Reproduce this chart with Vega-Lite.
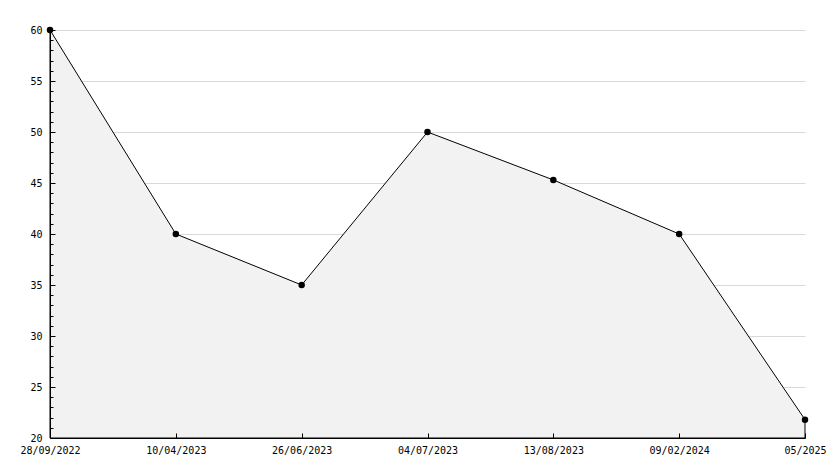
{
  "$schema": "https://vega.github.io/schema/vega-lite/v6.json",
  "width": 755,
  "height": 408,
  "autosize": {"type": "none"},
  "padding": {"left": 50, "top": 30, "right": 29, "bottom": 30},
  "background": "white",
  "config": {
    "view": {"stroke": null},
    "axis": {
      "labelFont": "DejaVu Sans Mono",
      "labelFontSize": 10,
      "labelColor": "black",
      "domainColor": "black",
      "tickColor": "black",
      "title": null
    }
  },
  "data": {
    "values": [
      {"date": "28/09/2022", "value": 60},
      {"date": "10/04/2023", "value": 40},
      {"date": "26/06/2023", "value": 35},
      {"date": "04/07/2023", "value": 50},
      {"date": "13/08/2023", "value": 45.3},
      {"date": "09/02/2024", "value": 40},
      {"date": "05/2025", "value": 21.8}
    ]
  },
  "encoding": {
    "x": {
      "field": "date",
      "type": "ordinal",
      "sort": null,
      "scale": {"type": "point", "padding": 0},
      "axis": {
        "labelAngle": 0,
        "grid": false,
        "tickSize": -5,
        "labelPadding": 12,
        "zindex": 1,
        "title": null
      }
    }
  },
  "layer": [
    {
      "mark": {"type": "area", "fill": "#f2f2f2", "stroke": "black", "strokeWidth": 1, "opacity": 1},
      "encoding": {
        "y": {
          "field": "value",
          "type": "quantitative",
          "scale": {"domain": [20, 60], "nice": false, "zero": false},
          "axis": {
            "orient": "left",
            "values": [25, 30, 35, 40, 45, 50, 55, 60],
            "grid": true,
            "gridColor": "#d9d9d9",
            "domain": false,
            "ticks": false,
            "labels": false,
            "zindex": 0,
            "title": null
          }
        },
        "y2": {"datum": 20}
      }
    },
    {
      "mark": {"type": "point", "shape": "circle", "filled": true, "color": "black", "size": 42, "opacity": 1},
      "encoding": {
        "y": {
          "field": "value",
          "type": "quantitative",
          "scale": {"domain": [20, 60], "nice": false, "zero": false},
          "axis": {
            "orient": "left",
            "values": [20,21,22,23,24,25,26,27,28,29,30,31,32,33,34,35,36,37,38,39,40,41,42,43,44,45,46,47,48,49,50,51,52,53,54,55,56,57,58,59,60],
            "labelExpr": "datum.value % 5 === 0 ? datum.label : ''",
            "tickSize": {"condition": {"test": "datum.value % 5 === 0", "value": -5}, "value": -3},
            "grid": false,
            "labelPadding": 13,
            "labelFlush": false,
            "zindex": 1,
            "title": null
          }
        }
      }
    }
  ],
  "resolve": {"axis": {"y": "independent"}}
}
